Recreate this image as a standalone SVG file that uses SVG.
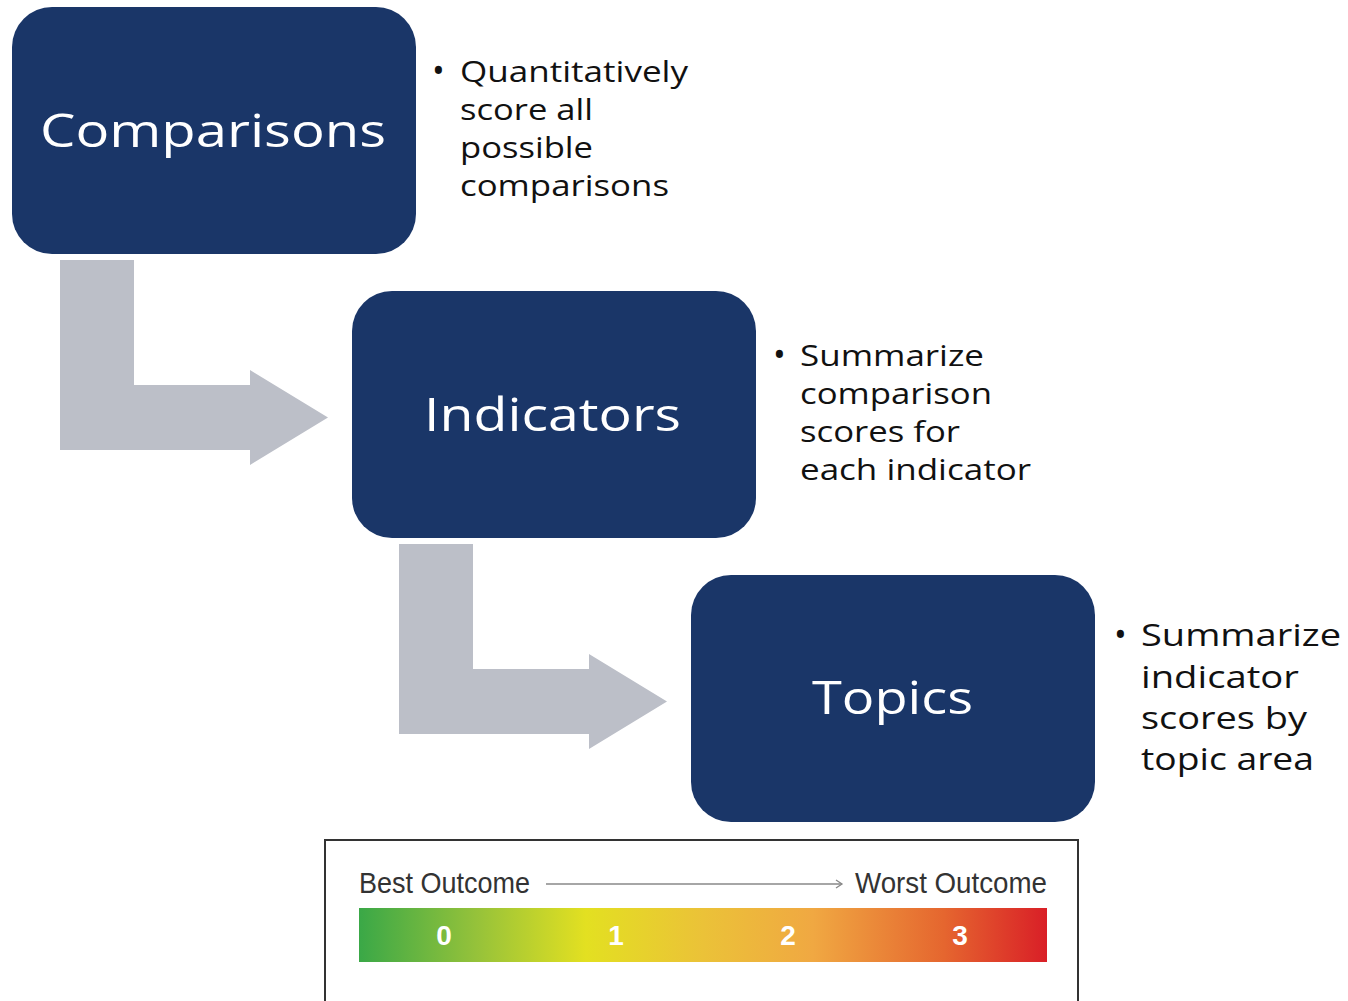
<svg xmlns="http://www.w3.org/2000/svg" width="1348" height="1001" viewBox="0 0 1348 1001">
<defs>
<style>
.box{fill:#1a3668;}
.title{font-family:"Open Sans","Noto Sans",sans-serif;font-size:46px;fill:#ffffff;}
.body{font-family:"Open Sans","Noto Sans",sans-serif;font-size:29px;fill:#111111;}
.body3{font-family:"Open Sans","Noto Sans",sans-serif;font-size:31px;fill:#111111;}
.bul{font-family:"Open Sans","Noto Sans",sans-serif;font-size:34px;fill:#111111;}
.conn{fill:#bcbfc8;}
.leg{font-family:"Liberation Sans",Arial,sans-serif;font-size:29px;fill:#333333;}
.num{font-family:"Liberation Sans",Arial,sans-serif;font-size:28px;font-weight:bold;fill:#ffffff;text-anchor:middle;}
</style>
<linearGradient id="scale" x1="0" y1="0" x2="1" y2="0">
<stop offset="0" stop-color="#3aa847"/>
<stop offset="0.17" stop-color="#95c23a"/>
<stop offset="0.33" stop-color="#e3e021"/>
<stop offset="0.5" stop-color="#ebc238"/>
<stop offset="0.66" stop-color="#f0a842"/>
<stop offset="0.85" stop-color="#e5662f"/>
<stop offset="1" stop-color="#d91f27"/>
</linearGradient>
<marker id="chev" markerWidth="10" markerHeight="10" refX="8" refY="5" orient="auto" markerUnits="userSpaceOnUse">
<path d="M2,1 L8,5 L2,9" fill="none" stroke="#888888" stroke-width="1.3"/>
</marker>
</defs>
<rect width="1348" height="1001" fill="#ffffff"/>

<g id="connectors">
<polygon class="conn" points="60,260 134,260 134,385 250,385 250,370 328,417.5 250,465 250,450 60,450"/>
<polygon class="conn" points="399,544 473,544 473,669 589,669 589,654 667,701.5 589,749 589,734 399,734"/>
</g>

<g id="node-comparisons">
<rect class="box" x="12" y="7" width="404" height="247" rx="40" ry="40"/>
<text class="title" x="40" y="147" textLength="346" lengthAdjust="spacingAndGlyphs">Comparisons</text>
</g>
<g id="note-comparisons">
<text class="bul" x="432" y="83">•</text>
<text class="body" x="460" y="82" textLength="228" lengthAdjust="spacingAndGlyphs">Quantitatively</text>
<text class="body" x="460" y="120" textLength="133" lengthAdjust="spacingAndGlyphs">score all</text>
<text class="body" x="460" y="158" textLength="133" lengthAdjust="spacingAndGlyphs">possible</text>
<text class="body" x="460" y="196" textLength="209" lengthAdjust="spacingAndGlyphs">comparisons</text>
</g>

<g id="node-indicators">
<rect class="box" x="352" y="291" width="404" height="247" rx="40" ry="40"/>
<text class="title" x="424" y="431" textLength="257" lengthAdjust="spacingAndGlyphs">Indicators</text>
</g>
<g id="note-indicators">
<text class="bul" x="773" y="367">•</text>
<text class="body" x="800" y="366" textLength="184" lengthAdjust="spacingAndGlyphs">Summarize</text>
<text class="body" x="800" y="404" textLength="192" lengthAdjust="spacingAndGlyphs">comparison</text>
<text class="body" x="800" y="442" textLength="160" lengthAdjust="spacingAndGlyphs">scores for</text>
<text class="body" x="800" y="480" textLength="231" lengthAdjust="spacingAndGlyphs">each indicator</text>
</g>

<g id="node-topics">
<rect class="box" x="691" y="575" width="404" height="247" rx="40" ry="40"/>
<text class="title" x="812" y="714" textLength="161" lengthAdjust="spacingAndGlyphs">Topics</text>
</g>
<g id="note-topics">
<text class="bul" x="1114" y="647">•</text>
<text class="body3" x="1141" y="646" textLength="200" lengthAdjust="spacingAndGlyphs">Summarize</text>
<text class="body3" x="1141" y="688" textLength="158" lengthAdjust="spacingAndGlyphs">indicator</text>
<text class="body3" x="1141" y="729" textLength="166" lengthAdjust="spacingAndGlyphs">scores by</text>
<text class="body3" x="1141" y="770" textLength="173" lengthAdjust="spacingAndGlyphs">topic area</text>
</g>

<g id="legend">
<rect x="325" y="840" width="753" height="200" fill="none" stroke="#333333" stroke-width="2"/>
<text class="leg" x="359" y="893" textLength="171" lengthAdjust="spacingAndGlyphs">Best Outcome</text>
<line x1="546" y1="884" x2="842" y2="884" stroke="#888888" stroke-width="1.3" marker-end="url(#chev)"/>
<text class="leg" x="855" y="893" textLength="192" lengthAdjust="spacingAndGlyphs">Worst Outcome</text>
<rect x="359" y="908" width="688" height="54" fill="url(#scale)"/>
<text class="num" x="444" y="945">0</text>
<text class="num" x="616" y="945">1</text>
<text class="num" x="788" y="945">2</text>
<text class="num" x="960" y="945">3</text>
</g>
</svg>
